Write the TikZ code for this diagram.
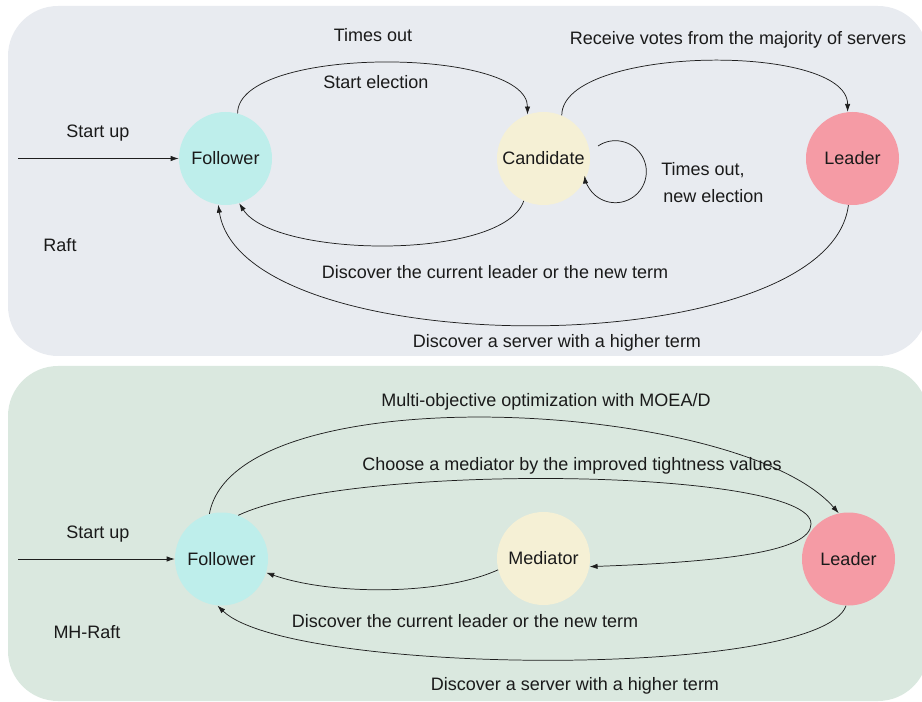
\documentclass[tikz,border=0pt]{standalone}
\usepackage{fontspec}
\setmainfont{Liberation Sans}
\usetikzlibrary{arrows.meta}

\definecolor{rafttop}{RGB}{232,235,240}
\definecolor{mhbottom}{RGB}{218,232,223}
\definecolor{followerc}{RGB}{190,238,235}
\definecolor{candc}{RGB}{245,240,213}
\definecolor{leaderc}{RGB}{245,155,165}
\definecolor{inkc}{RGB}{26,26,26}
\definecolor{wirec}{RGB}{30,30,30}

\begin{document}
\begin{tikzpicture}[x=0.75pt,y=-0.75pt,
  every node/.style={font=\fontsize{13.5}{16}\selectfont, text=inkc},
  state/.style={circle, minimum size=69.75pt, inner sep=0pt},
  lbl/.style={inner sep=0pt},
  conn/.style={draw=wirec, line width=0.55pt, -{Latex[length=6pt,width=4pt]}},
  panel/.style={rounded corners=37.5pt}]

\useasboundingbox (0,0) rectangle (922,702);
\clip (0,0) rectangle (922,702);

% background panels
\fill[rafttop, panel] (8,6) rectangle (928,356);
\fill[mhbottom, panel] (8,366) rectangle (928,701);

% ---------- Raft ----------
\node[state, fill=followerc] (fol1) at (225.5,158.5) {Follower};
\node[state, fill=candc] (cand) at (543.5,158.5) {Candidate};
\node[state, fill=leaderc] (lead1) at (852.5,158.5) {Leader};

\coordinate (in1) at (18,158.5);
\draw[conn] (in1) -- (fol1.west);
\node[lbl] (su1) at (98,133) {Start up};
\node[lbl] (raft) at (60,245) {Raft};

% follower -> candidate
\draw[conn] (fol1.75) .. controls +(0,-68) and +(0,-68) .. (cand.110);
\node[lbl] (to1) at (373,35) {Times out};
\node[lbl] (se1) at (376,82) {Start election};

% candidate -> leader
\draw[conn] (cand.67) .. controls +(0,-70) and +(0,-70) .. (lead1.96);
\node[lbl] (rv) at (738,40) {Receive votes from the majority of servers};

% candidate self loop
\coordinate (loopst) at (598,146);
\draw[conn] (loopst) arc[start angle=-124, end angle=173, radius=31];
\node[lbl, anchor=west] (to2) at (661,170) {Times out,};
\node[lbl, anchor=west] (ne) at (663,196) {new election};

% candidate -> follower
\draw[conn] (cand.245) .. controls +(-20,60) and +(35,55) .. (fol1.287);
\node[lbl] (dc1) at (495,272) {Discover the current leader or the new term};

% leader -> follower
\draw[conn] (lead1.265) .. controls +(-20,160) and +(25,160) .. (fol1.261);
\node[lbl] (dh1) at (557,343) {Discover a server with a higher term};

% ---------- MH-Raft ----------
\node[state, fill=followerc] (fol2) at (221.5,559) {Follower};
\node[state, fill=candc] (med) at (543.5,558.5) {Mediator};
\node[state, fill=leaderc] (lead2) at (848.5,559) {Leader};

\coordinate (in2) at (18,559);
\draw[conn] (in2) -- (fol2.west);
\node[lbl] (su2) at (98,534) {Start up};
\node[lbl] (mh) at (87,632) {MH-Raft};

% follower -> leader
\draw[conn] (fol2.105) .. controls +(26,-141) and +(-99,-114) .. (lead2.102);
\node[lbl] (mo) at (546,402) {Multi-objective optimization with MOEA/D};

% follower -> mediator, around the right side
\coordinate (turn) at (811,524);
\draw[conn] (fol2.69) .. controls (350,462) and (812,468) .. (turn)
  .. controls (811,552) and (720,562) .. (med.-10);
\node[lbl] (cm) at (572,466) {Choose a mediator by the improved tightness values};

% mediator -> follower
\draw[conn] (med.194) .. controls (440,596) and (330,595) .. (fol2.-17);
\node[lbl] (dc2) at (465,621) {Discover the current leader or the new term};

% leader -> follower
\draw[conn] (lead2.-93) .. controls +(-26,74) and +(72,70) .. (fol2.-95);
\node[lbl] (dh2) at (575,686) {Discover a server with a higher term};

\end{tikzpicture}
\end{document}
